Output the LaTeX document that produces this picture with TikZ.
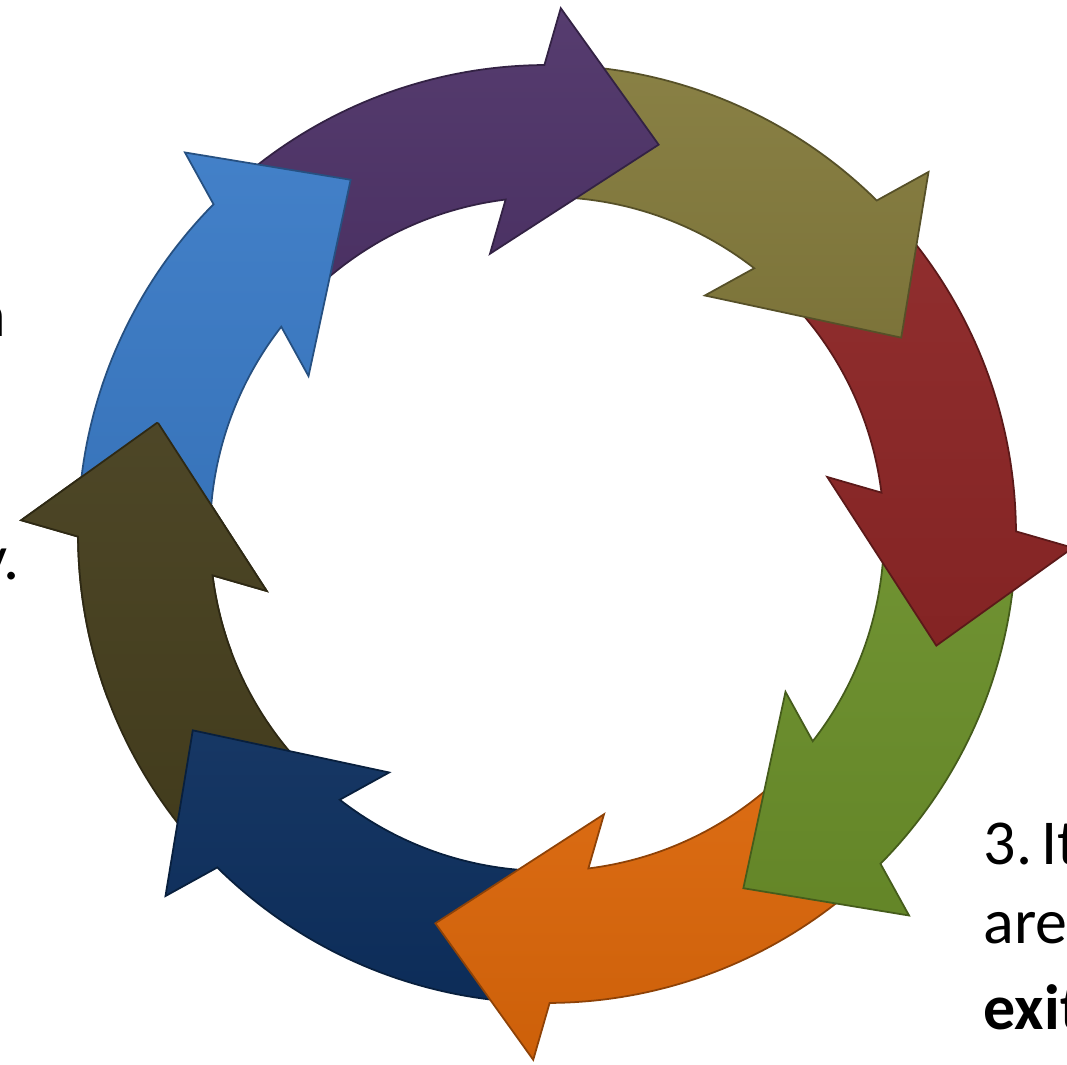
\documentclass[tikz,border=0pt]{standalone}
\usepackage{fontspec}
\setmainfont{Carlito}

\definecolor{cycBlue}{HTML}{3B7BC6}
\definecolor{cycPurple}{HTML}{4F3469}
\definecolor{cycOlive}{HTML}{847B3D}
\definecolor{cycRed}{HTML}{8C2626}
\definecolor{cycGreen}{HTML}{6A8E2A}
\definecolor{cycOrange}{HTML}{DA660A}
\definecolor{cycNavy}{HTML}{0D2F5E}
\definecolor{cycDark}{HTML}{463F1E}

\tikzset{
  ring fill/.style={top color=#1!96!white, bottom color=#1!94!black},
  ring edge/.style={draw=#1!65!black, line width=0.5pt, line join=miter},
  side text/.style={inner sep=0pt, font=\fontsize{18.2pt}{22pt}\selectfont},
}

% angles of one curved arrow whose outer head corner sits at #1
\newcommand{\cycangles}[1]{%
  \pgfmathsetmacro\cycTail{#1-44}%
  \pgfmathsetmacro\cycFront{#1-22}%
  \pgfmathsetmacro\cycOutNotch{#1-1.82}%
  \pgfmathsetmacro\cycTip{#1+14.5}%
  \pgfmathsetmacro\cycInCorner{#1-13}%
  \pgfmathsetmacro\cycInNotch{#1-8.55}%
}

% a full arrow of the ring: band from the tail, then the head
\newcommand{\cyclearrow}[2]{%
  \cycangles{#1}%
  \path[ring fill=#2]
    (\cycTail:469) -- plot[domain=\cycTail:\cycOutNotch, samples=40] (\x:469)
    -- (#1:526) -- (\cycTip:405) -- (\cycInCorner:286) -- (\cycInNotch:337)
    -- plot[domain=\cycInNotch:\cycTail, samples=40] (\x:337) -- cycle;
  \path[ring edge=#2]
    (\cycTail:469) -- plot[domain=\cycTail:\cycOutNotch, samples=40] (\x:469)
    -- (#1:526) -- (\cycTip:405) -- (\cycInCorner:286) -- (\cycInNotch:337)
    -- plot[domain=\cycInNotch:\cycTail, samples=40] (\x:337) -- cycle;
}

% only the front part of an arrow (band end and head), laid over its neighbour
\newcommand{\cyclefront}[2]{%
  \cycangles{#1}%
  \begin{scope}
    \clip (\cycFront:300) -- (\cycFront:600) -- (\cycTip:700) -- (\cycTip:200) -- cycle;
    \cyclearrow{#1}{#2}
  \end{scope}
}

\begin{document}
\begin{tikzpicture}[x=0.01cm, y=-0.01cm]
  \useasboundingbox (0,0) rectangle (1067,1065);
  \clip (0,0) rectangle (1067,1065);

  % the ring of eight clockwise arrows, each one lying over the next
  \begin{scope}[shift={(547,534)}]
    \cyclearrow{181.5}{cycDark}
    \cyclearrow{136.5}{cycNavy}
    \cyclearrow{91.5}{cycOrange}
    \cyclearrow{46.5}{cycGreen}
    \cyclearrow{1.5}{cycRed}
    \cyclearrow{316.5}{cycOlive}
    \cyclearrow{271.5}{cycPurple}
    \cyclearrow{226.5}{cycBlue}
    \cyclefront{181.5}{cycDark}
  \end{scope}

  % text running in from the left column
  \node[side text, anchor=base east] (leftA) at (7,337) {n};
  \node[side text, anchor=base east] (leftB) at (20,580) {y.};

  % text running out at the right edge
  \node[side text, anchor=base west] (rightA) at (983,865) {3.\hspace{0.14em}It};
  \node[side text, anchor=base west] (rightB) at (983,943) {are};
  \node[side text, anchor=base west, font=\fontsize{18.2pt}{22pt}\selectfont\bfseries] (rightC) at (983,1029) {exit};
\end{tikzpicture}
\end{document}
